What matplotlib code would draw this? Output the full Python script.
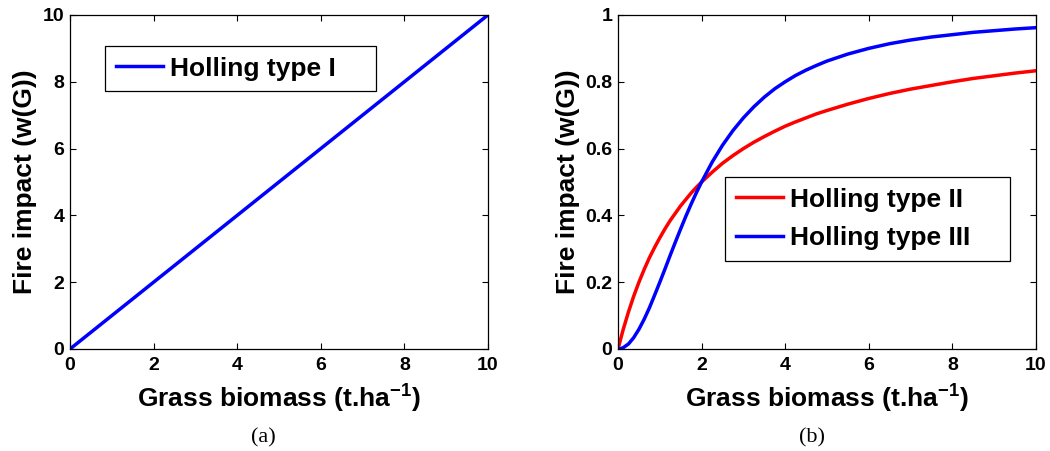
import matplotlib
matplotlib.use("Agg")
import matplotlib.pyplot as plt

plt.rcParams['font.family'] = ['Liberation Sans', 'DejaVu Sans']
plt.rcParams['font.weight'] = 'bold'
plt.rcParams['mathtext.fontset'] = 'custom'
plt.rcParams['mathtext.rm'] = 'Liberation Sans:bold'
plt.rcParams['mathtext.bf'] = 'Liberation Sans:bold'
plt.rcParams['mathtext.default'] = 'bf'

# Panel (a): Holling type I
g_lin = [0, 10]
w_type1 = [0, 10]

# Panel (b): Holling type II and III
g_vals = [0, 0.0625, 0.125, 0.25, 0.375, 0.5, 0.625, 0.75, 0.875, 1, 1.125,
          1.25, 1.375, 1.5, 1.625, 1.75, 1.875, 2, 2.25, 2.5, 2.75, 3, 3.25,
          3.5, 3.75, 4, 4.25, 4.5, 4.75, 5, 5.5, 6, 6.5, 7, 7.5, 8, 8.5, 9,
          9.5, 10]
w_type2 = [0, 0.030, 0.059, 0.111, 0.158, 0.2, 0.238, 0.273, 0.304, 0.333,
           0.36, 0.385, 0.407, 0.429, 0.448, 0.467, 0.484, 0.5, 0.529, 0.556,
           0.579, 0.6, 0.619, 0.636, 0.652, 0.667, 0.68, 0.692, 0.704, 0.714,
           0.733, 0.75, 0.765, 0.778, 0.789, 0.8, 0.81, 0.818, 0.826, 0.833]
w_type3 = [0, 0.001, 0.004, 0.015, 0.034, 0.059, 0.089, 0.123, 0.161, 0.2,
           0.240, 0.281, 0.321, 0.36, 0.398, 0.434, 0.468, 0.5, 0.559, 0.61,
           0.654, 0.692, 0.725, 0.754, 0.779, 0.8, 0.819, 0.835, 0.849, 0.862,
           0.883, 0.9, 0.914, 0.925, 0.934, 0.941, 0.948, 0.953, 0.958, 0.962]

x_ticks = [0, 2, 4, 6, 8, 10]
y_ticks_a = [0, 2, 4, 6, 8, 10]
y_ticks_b = [0, 0.2, 0.4, 0.6, 0.8, 1]
y_labels_b = ['0', '0.2', '0.4', '0.6', '0.8', '1']

xlabel = r'Grass biomass (t.ha$^{-1}$)'
ylabel = 'Fire impact (w(G))'

fig = plt.figure(figsize=(10.5, 4.51), dpi=100)
ax1 = fig.add_axes([0.0667, 0.2262, 0.398, 0.7406])
ax2 = fig.add_axes([0.5886, 0.2262, 0.398, 0.7406])

# trailing spaces give the MATLAB-style empty room on the right of the legend box
ax1.plot(g_lin, w_type1, color='#0000ff', lw=2.5, label='Holling type I    ')
ax2.plot(g_vals, w_type2, color='#ff0000', lw=2.5, label='Holling type II')
ax2.plot(g_vals, w_type3, color='#0000ff', lw=2.5, label='Holling type III    ')

ax1.set_ylim(0, 10)
ax1.set_yticks(y_ticks_a)
ax2.set_ylim(0, 1)
ax2.set_yticks(y_ticks_b)
ax2.set_yticklabels(y_labels_b)

for ax in (ax1, ax2):
    ax.set_xlim(0, 10)
    ax.set_xticks(x_ticks)
    ax.tick_params(direction='in', top=True, right=True, length=4, width=0.8,
                   labelsize=14)
    ax.tick_params(axis='x', pad=6)
    ax.tick_params(axis='y', pad=4)
    for lab in ax.get_xticklabels() + ax.get_yticklabels():
        lab.set_fontweight('bold')
    for s in ax.spines.values():
        s.set_linewidth(0.9)
    ax.set_xlabel(xlabel, fontsize=19, fontweight='bold', labelpad=6)
    ax.set_ylabel(ylabel, fontsize=19, fontweight='bold', labelpad=4)

leg_kw = dict(fontsize=19, frameon=True, fancybox=False, edgecolor='black',
              framealpha=1, handlelength=1.8, handletextpad=0.25,
              borderpad=0.4, labelspacing=0.55, borderaxespad=0)
l1 = ax1.legend(loc='upper left', bbox_to_anchor=(0.084, 0.907), **leg_kw)
l2 = ax2.legend(loc='upper left', bbox_to_anchor=(0.256, 0.515), **leg_kw)
for leg in (l1, l2):
    leg.get_frame().set_linewidth(0.9)
    for t in leg.get_texts():
        t.set_fontweight('bold')

fig.text(0.2505, 0.008, '(a)', family='Liberation Serif', fontweight='normal',
         fontsize=16, ha='center', va='bottom')
fig.text(0.7733, 0.008, '(b)', family='Liberation Serif', fontweight='normal',
         fontsize=16, ha='center', va='bottom')

fig.savefig('out.png', dpi=100)
